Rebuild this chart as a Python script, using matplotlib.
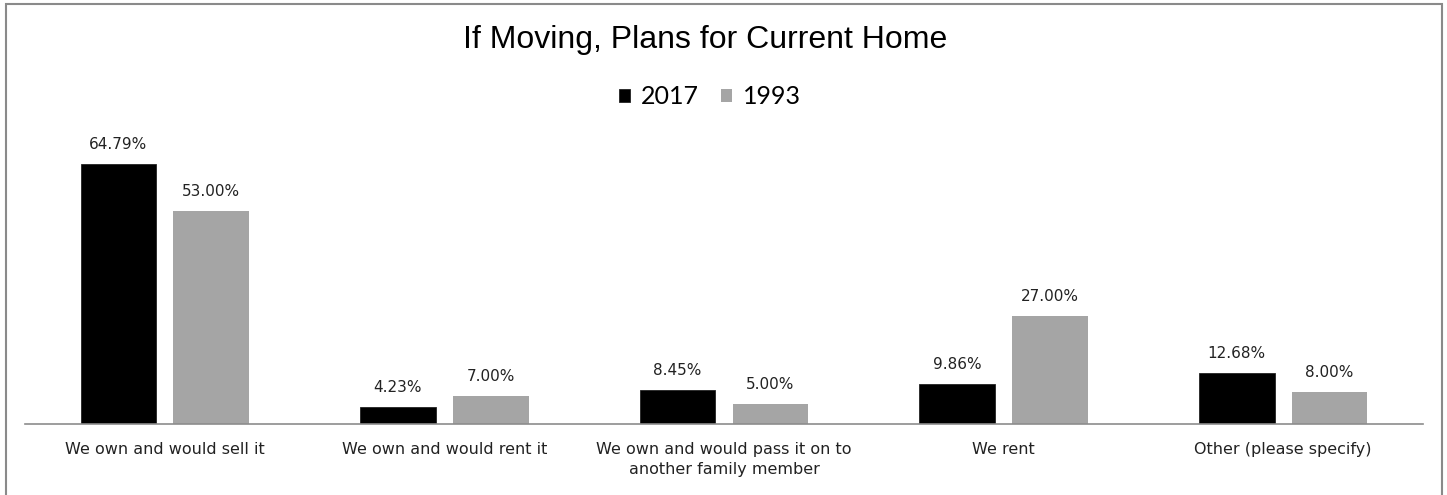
import matplotlib
matplotlib.use("Agg")
import matplotlib.pyplot as plt
from matplotlib.patches import Rectangle
import numpy as np

# survey answers, in percent
categories = ["We own and would sell it", "We own and would rent it",
              "We own and would pass it on to\nanother family member",
              "We rent", "Other (please specify)"]
vals_2017 = [64.79, 4.23, 8.45, 9.86, 12.68]
vals_1993 = [53.00, 7.00, 5.00, 27.00, 8.00]
years = ["2017", "1993"]

fig = plt.figure(figsize=(14.47, 4.95), dpi=100)
ax = fig.add_axes([25/1447, 1-424/495, 1398/1447, (424-143)/495])

x = np.arange(len(categories))
w = 0.27
off = 0.166
b1 = ax.bar(x - off, vals_2017, w, color="black", edgecolor="#222222", linewidth=0.6, label=years[0])
b2 = ax.bar(x + off, vals_1993, w, color="#A5A5A5", label=years[1])

for bars, vals in [(b1, vals_2017), (b2, vals_1993)]:
    for b, v in zip(bars, vals):
        ax.annotate(f"{v:.2f}%", (b.get_x() + b.get_width()/2, v),
                    xytext=(0, 14), textcoords="offset points",
                    ha="center", va="center", fontsize=11, color="#222222")

ax.set_xlim(-0.5, len(categories) - 0.5)
ax.set_ylim(0, 70)
ax.set_yticks([])
ax.set_xticks(x)
ax.set_xticklabels(categories, fontsize=11.5, color="#222222", linespacing=1.45)
ax.tick_params(axis="x", length=0, pad=13)
for s in ["top", "right", "left"]:
    ax.spines[s].set_visible(False)
ax.spines["bottom"].set_color("#8C8C8C")
ax.spines["bottom"].set_linewidth(1.2)

fig.text(705/1447, 1-40/495, "If Moving, Plans for Current Home",
         ha="center", va="center", fontsize=23, family="Liberation Sans")
fig.legend(handles=[b1, b2], labels=years, loc="center", bbox_to_anchor=(710/1447, 1-97/495),
           ncol=2, frameon=False, prop={"family": "Lato", "size": 18},
           handlelength=0.42, handleheight=0.42, handletextpad=0.45, columnspacing=0.9)

# outer chart border
fig.patches.append(Rectangle((6/1447, -0.05), 1436/1447, 1.05 - 4/495,
                             transform=fig.transFigure, fill=False,
                             edgecolor="#8A8A8A", linewidth=1.5))

fig.savefig("out.png", dpi=100)
